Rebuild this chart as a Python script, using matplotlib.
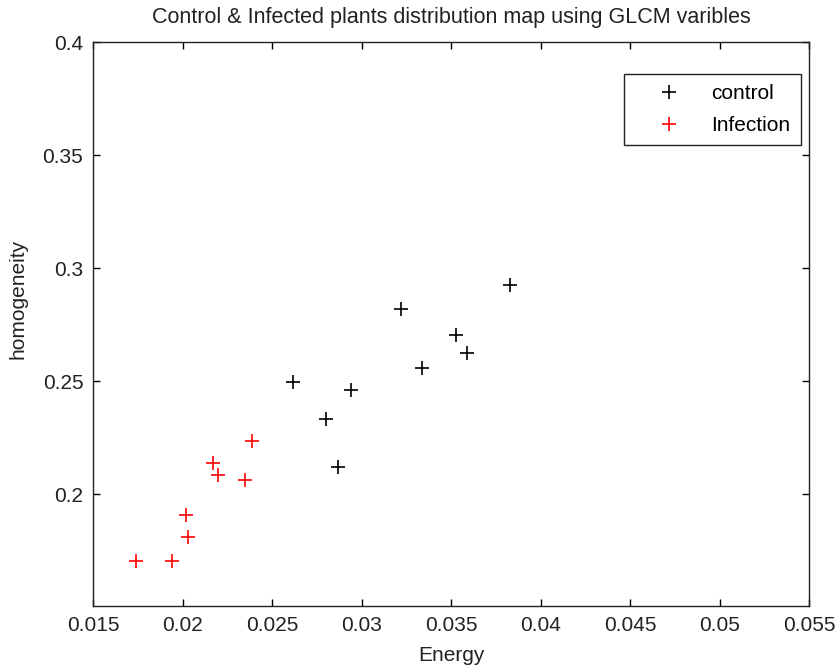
import matplotlib
matplotlib.use("Agg")
import matplotlib.pyplot as plt

# ================= DATOS =================
control_energy = [0.0262, 0.0294, 0.0280, 0.0287, 0.0322, 0.0334, 0.0353, 0.0359, 0.0383]
control_homog = [0.2497, 0.2460, 0.2334, 0.2119, 0.2818, 0.2556, 0.2705, 0.2623, 0.2924]

infection_energy = [0.0174, 0.0194, 0.0202, 0.0203, 0.0217, 0.0220, 0.0235, 0.0239]
infection_homog = [0.1704, 0.1704, 0.1908, 0.1812, 0.2138, 0.2086, 0.2064, 0.2233]

x_ticks = [0.015, 0.02, 0.025, 0.03, 0.035, 0.04, 0.045, 0.05, 0.055]
x_tick_labels = ["0.015", "0.02", "0.025", "0.03", "0.035", "0.04", "0.045", "0.05", "0.055"]
y_ticks = [0.2, 0.25, 0.3, 0.35, 0.4]
y_tick_labels = ["0.2", "0.25", "0.3", "0.35", "0.4"]

plt.rcParams["font.family"] = ["Liberation Sans", "DejaVu Sans"]
texto = "#222222"

fig = plt.figure(figsize=(8.36, 6.68), dpi=100)
# ejes: x de 93 a 809 px, y de 42 a 606 px
ax = fig.add_axes([93 / 836, 62 / 668, 716 / 836, 564 / 668])

ax.plot(control_energy, control_homog, linestyle="none", marker="+", color="black",
        markersize=10, markeredgewidth=1.2, label="control")
ax.plot(infection_energy, infection_homog, linestyle="none", marker="+", color="red",
        markersize=10, markeredgewidth=1.2, label="Infection")

ax.set_xlim(0.015, 0.055)
ax.set_ylim(0.1505, 0.4)
ax.set_xticks(x_ticks)
ax.set_xticklabels(x_tick_labels)
ax.set_yticks(y_ticks)
ax.set_yticklabels(y_tick_labels)
ax.tick_params(direction="in", length=5, width=1, top=True, right=True,
               labelsize=15, labelcolor=texto, pad=7)
for s in ax.spines.values():
    s.set_linewidth(1.0)
    s.set_color(texto)

ax.set_title("Control & Infected plants distribution map using GLCM varibles",
             fontsize=15.5, color=texto, pad=14)
ax.set_xlabel("Energy", fontsize=15, color=texto, labelpad=8)
ax.set_ylabel("homogeneity", fontsize=15, color=texto)
ax.yaxis.set_label_coords(-0.092, 0.545)

leg = ax.legend(loc="upper right", bbox_to_anchor=(1 - 8 / 716, 1 - 32 / 564), fontsize=15,
                frameon=True, fancybox=False, edgecolor=texto, framealpha=1,
                borderpad=0.5, labelspacing=0.6, handletextpad=0.4, handlelength=3.3,
                borderaxespad=0)
leg.get_frame().set_linewidth(1.0)

fig.savefig("out.png", dpi=100)
